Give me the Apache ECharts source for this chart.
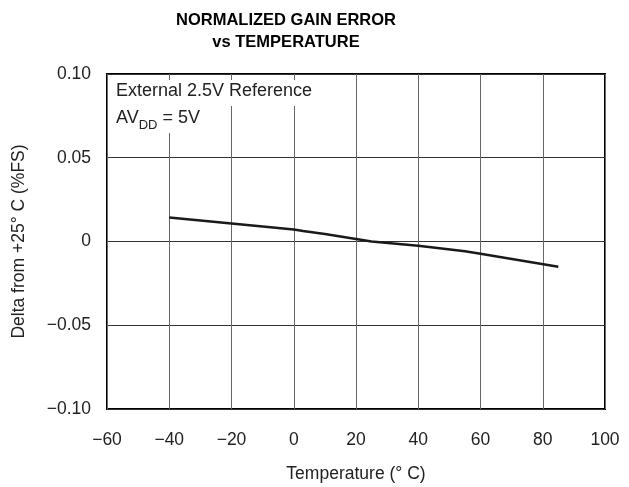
<!DOCTYPE html>
<html>
<head>
<meta charset="utf-8">
<script src="https://cdn.jsdelivr.net/npm/echarts@6/dist/echarts.min.js"></script>
<style>
html,body{margin:0;padding:0;background:#fff;}
#chart{width:629px;height:487px;}
</style>
</head>
<body>
<div id="chart"></div>
<script>
// Data
var temperatures = [-40, -20, 0, 3, 10, 20, 25, 40, 55, 60, 85];
var gainErrorDelta = [0.0143, 0.0107, 0.0071, 0.0063, 0.0045, 0.0015, 0.0, -0.0025, -0.0058, -0.0073, -0.0151];
var xTickLabels = {'-60':'\u221260','-40':'\u221240','-20':'\u221220','0':'0','20':'20','40':'40','60':'60','80':'80','100':'100'};
var yTickLabels = {'0.1':'0.10','0.05':'0.05','0':'0','-0.05':'\u22120.05','-0.1':'\u22120.10'};
var titleLines = ['NORMALIZED GAIN ERROR', 'vs TEMPERATURE'];
var annotationLine1 = 'External 2.5V Reference';
var xAxisName = 'Temperature (\u00b0 C)';
var yAxisName = 'Delta from +25\u00b0 C (%FS)';

var font = 'Liberation Sans, Arial, Helvetica, sans-serif';
var pts = temperatures.map(function(t, i){ return [t, gainErrorDelta[i]]; });

function key(v){ return String(Math.round(v*1000)/1000); }

var chart = echarts.init(document.getElementById('chart'), null, {renderer:'canvas'});
chart.setOption({
  animation: false,
  backgroundColor: '#fff',
  grid: {left:107, right:24, top:74, bottom:78, outerBoundsMode:'none', containLabel:false,
         show:true, borderColor:'#000', borderWidth:2, backgroundColor:'transparent'},
  xAxis: {
    type:'value', min:-60, max:100, interval:20,
    name: xAxisName, nameLocation:'middle', nameGap:56,
    nameTextStyle:{fontFamily:font, fontSize:17.5, color:'#222'},
    axisLine:{show:false},
    axisTick:{show:false},
    axisLabel:{fontFamily:font, fontSize:17.5, color:'#222', margin:22,
      formatter:function(v){ return xTickLabels[key(v)] !== undefined ? xTickLabels[key(v)] : v; }},
    splitLine:{show:true, lineStyle:{color:'#666', width:1}}
  },
  yAxis: {
    type:'value', min:-0.1, max:0.1, interval:0.05,
    name: yAxisName, nameLocation:'middle', nameGap:79, nameRotate:90,
    nameTextStyle:{fontFamily:font, fontSize:17.5, color:'#222'},
    axisLine:{show:false},
    axisTick:{show:false},
    axisLabel:{fontFamily:font, fontSize:17.5, color:'#222', margin:16,
      formatter:function(v){ return yTickLabels[key(v)] !== undefined ? yTickLabels[key(v)] : v; }},
    splitLine:{show:true, lineStyle:{color:'#333', width:1}}
  },
  graphic: [
    {type:'text', x:286, y:12, style:{text:titleLines[0], font:'bold 16.5px '+font, fill:'#000', align:'center', textAlign:'center'}},
    {type:'text', x:286, y:34, style:{text:titleLines[1], font:'bold 16.5px '+font, fill:'#000', align:'center', textAlign:'center'}},
    {type:'rect', shape:{x:108, y:80, width:234, height:26}, style:{fill:'#fff'}, z:50},
    {type:'rect', shape:{x:108, y:106, width:100, height:27}, style:{fill:'#fff'}, z:50},
    {type:'text', x:116, y:82, z:51, style:{text:annotationLine1, font:'18px '+font, fill:'#222'}},
    {type:'text', x:116, y:107, z:51, style:{
      text:'{n|AV}{s|DD}{n| = 5V}',
      rich:{
        n:{fontFamily:font, fontSize:18, fill:'#222', color:'#222', verticalAlign:'bottom', lineHeight:20},
        s:{fontFamily:font, fontSize:13, fill:'#222', color:'#222', verticalAlign:'bottom', lineHeight:13, padding:[0,0,-5,0]}
      }
    }}
  ],
  series: [{
    type:'line', data: pts, showSymbol:false, smooth:false,
    lineStyle:{color:'#1a1a1a', width:2.5}
  }]
});
</script>
</body>
</html>
